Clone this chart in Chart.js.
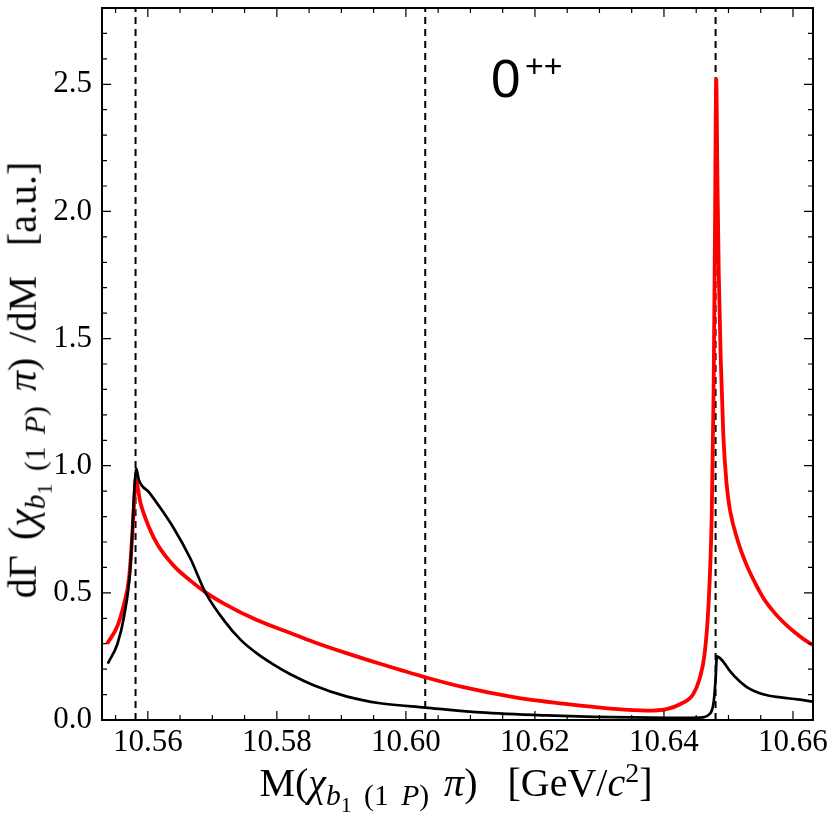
<!DOCTYPE html>
<html><head><meta charset="utf-8">
<script src="https://cdn.jsdelivr.net/npm/chart.js@4.4.1/dist/chart.umd.min.js"></script>
<style>
html,body{margin:0;padding:0;background:#fff;}
#wrap{position:relative;width:834px;height:821px;overflow:hidden;background:#fff;}
canvas{position:absolute;left:0;top:0;}
.ttl{position:absolute;font-family:'Liberation Serif','Times New Roman',serif;font-size:40px;line-height:40px;white-space:nowrap;color:#000;}
.ttl sub{font-size:0.74em;vertical-align:-0.32em;line-height:0;}
.ttl sup{font-size:0.7em;vertical-align:0.5em;line-height:0;}
#xt{left:456px;top:763px;transform:translateX(-50%);word-spacing:5px;}
#yt{left:24px;top:380px;transform:translate(-50%,-50%) rotate(-90deg);word-spacing:5px;}
.lab{position:absolute;font-family:'Liberation Sans',Arial,sans-serif;white-space:nowrap;color:#000;}
#l0{left:491px;top:52px;font-size:53px;line-height:53px;}
#lpp{left:525px;top:50px;font-size:32px;line-height:32px;}
</style></head>
<body><div id="wrap"><canvas id="c" width="834" height="821"></canvas>
<div id="xt" class="ttl">M(<i>χ</i><sub><i>b</i><sub>1</sub> (1 <i>P</i>)</sub> <i>π</i>)&nbsp; [GeV/<i>c</i><sup>2</sup>]</div>
<div id="yt" class="ttl">dΓ (<i>χ</i><sub><i>b</i><sub>1</sub> (1 <i>P</i>)</sub> <i>π</i>) /dM&nbsp; [a.u.]</div>
<span id="l0" class="lab">0</span><span id="lpp" class="lab">++</span>
</div>
<script>
// ---- data ----
const thresholds = [10.5581, 10.6030, 10.6480];

const redX = [10.5537,10.5553,10.5563,10.5571,10.5576,10.5580,10.5581,10.5589,10.5602,10.5615,10.5640,10.5666,10.5689,10.5718,10.5769,10.5821,10.5857,10.5909,10.5960,10.6030,10.6089,10.6167,10.6244,10.6321,10.6373,10.6404,10.6425,10.6445,10.6455,10.6463,10.6469,10.6474,10.6477,10.6479,10.6481,10.6483,10.6485,10.6488,10.6492,10.6497,10.6502,10.6515,10.6528,10.6541,10.6554,10.6567,10.6579,10.6592,10.6605,10.6618,10.6631];
const redY = [0.30,0.37,0.455,0.56,0.73,0.91,0.945,0.85,0.757,0.69,0.607,0.548,0.503,0.458,0.393,0.342,0.307,0.262,0.221,0.168,0.129,0.090,0.064,0.044,0.037,0.043,0.062,0.10,0.16,0.26,0.45,0.80,1.30,1.90,2.52,2.10,1.75,1.42,1.12,0.93,0.83,0.70,0.61,0.54,0.48,0.435,0.40,0.368,0.34,0.315,0.295];

const blackX = [10.5538,10.5553,10.5563,10.5573,10.5578,10.5580,10.5582,10.5586,10.5602,10.5615,10.5640,10.5666,10.5689,10.5718,10.5744,10.5769,10.5795,10.5821,10.5857,10.5909,10.5960,10.6030,10.6115,10.6218,10.6321,10.6425,10.6455,10.6471,10.6477,10.6480,10.6482,10.6490,10.6503,10.6516,10.6529,10.6555,10.6581,10.6607,10.6631];
const blackY = [0.222,0.30,0.405,0.60,0.85,0.94,0.99,0.945,0.895,0.85,0.755,0.635,0.503,0.392,0.315,0.262,0.218,0.180,0.137,0.092,0.066,0.049,0.030,0.018,0.011,0.008,0.009,0.024,0.07,0.16,0.25,0.235,0.19,0.155,0.128,0.10,0.089,0.081,0.072];

const xTickLabels = ['10.56','10.58','10.60','10.62','10.64','10.66'];
const yTickLabels = ['0.0','0.5','1.0','1.5','2.0','2.5'];
const xMinorTicks = [10.555,10.565,10.570,10.575,10.585,10.590,10.595,10.605,10.610,10.615,10.625,10.630,10.635,10.645,10.650,10.655];
const yMinorTicks = [0.1,0.2,0.3,0.4,0.6,0.7,0.8,0.9,1.1,1.2,1.3,1.4,1.6,1.7,1.8,1.9,2.1,2.2,2.3,2.4,2.6,2.7];
const xRange = [10.5529, 10.6631];
const yRange = [0, 2.8];

// ---- chart ----
const toPts = (xs, ys) => xs.map((x, i) => ({x: x, y: ys[i]}));
const tickFont = {family: "'Liberation Serif','Times New Roman',serif", size: 31};

const datasets = [
  {label: 'black', data: toPts(blackX, blackY), borderColor: '#000', borderWidth: 2.7,
   pointRadius: 0, cubicInterpolationMode: 'monotone', fill: false, order: 0},
  {label: 'red', data: toPts(redX, redY), borderColor: 'rgb(255,0,0)', borderWidth: 3.8,
   pointRadius: 0, cubicInterpolationMode: 'monotone', fill: false, order: 1}
];
thresholds.forEach((t, i) => datasets.push({
  label: 'thr' + i, data: [{x: t, y: yRange[0]}, {x: t, y: yRange[1]}],
  borderColor: '#000', borderWidth: 2, borderDash: [7, 5], pointRadius: 0, order: 2
}));

const framePlugin = {
  id: 'frame',
  afterDatasetsDraw(chart) {
    const {ctx, chartArea: a, scales: {x, y}} = chart;
    ctx.save();
    ctx.strokeStyle = '#000';
    ctx.lineWidth = 1.2;
    ctx.beginPath();
    const seg = (x0, y0, x1, y1) => { ctx.moveTo(x0, y0); ctx.lineTo(x1, y1); };
    const xt = (v, len) => { const p = x.getPixelForValue(v); seg(p, a.bottom, p, a.bottom - len); seg(p, a.top, p, a.top + len); };
    const yt = (v, len) => { const p = y.getPixelForValue(v); seg(a.left, p, a.left + len, p); seg(a.right, p, a.right - len, p); };
    xTickLabels.forEach(l => xt(parseFloat(l), 9));
    xMinorTicks.forEach(v => xt(v, 5));
    yTickLabels.forEach(l => yt(parseFloat(l), 9));
    yMinorTicks.forEach(v => yt(v, 5));
    ctx.stroke();
    ctx.lineWidth = 2;
    ctx.strokeRect(a.left, a.top, a.right - a.left, a.bottom - a.top);
    ctx.restore();
  }
};

new Chart(document.getElementById('c'), {
  type: 'line',
  data: {datasets: datasets},
  options: {
    responsive: false, animation: false, events: [],
    layout: {padding: {left: 0, right: 21, top: 8, bottom: 0}},
    plugins: {legend: {display: false}, tooltip: {enabled: false}},
    scales: {
      x: {
        type: 'linear', min: xRange[0], max: xRange[1],
        afterBuildTicks: s => { s.ticks = xTickLabels.map(l => ({value: parseFloat(l)})); },
        afterFit: s => { s.height = 101; s.paddingLeft = 0; s.paddingRight = 0; },
        ticks: {callback: (v, i) => xTickLabels[i], font: tickFont, color: '#000', padding: 4, maxRotation: 0, autoSkip: false},
        grid: {display: false, drawTicks: false}, border: {display: false}
      },
      y: {
        type: 'linear', min: yRange[0], max: yRange[1],
        afterBuildTicks: s => { s.ticks = yTickLabels.map(l => ({value: parseFloat(l)})); },
        afterFit: s => { s.width = 102; s.paddingTop = 0; s.paddingBottom = 0; },
        ticks: {callback: (v, i) => yTickLabels[i], font: tickFont, color: '#000', padding: 10, autoSkip: false},
        grid: {display: false, drawTicks: false}, border: {display: false}
      }
    }
  },
  plugins: [framePlugin]
});
</script>
</body></html>
